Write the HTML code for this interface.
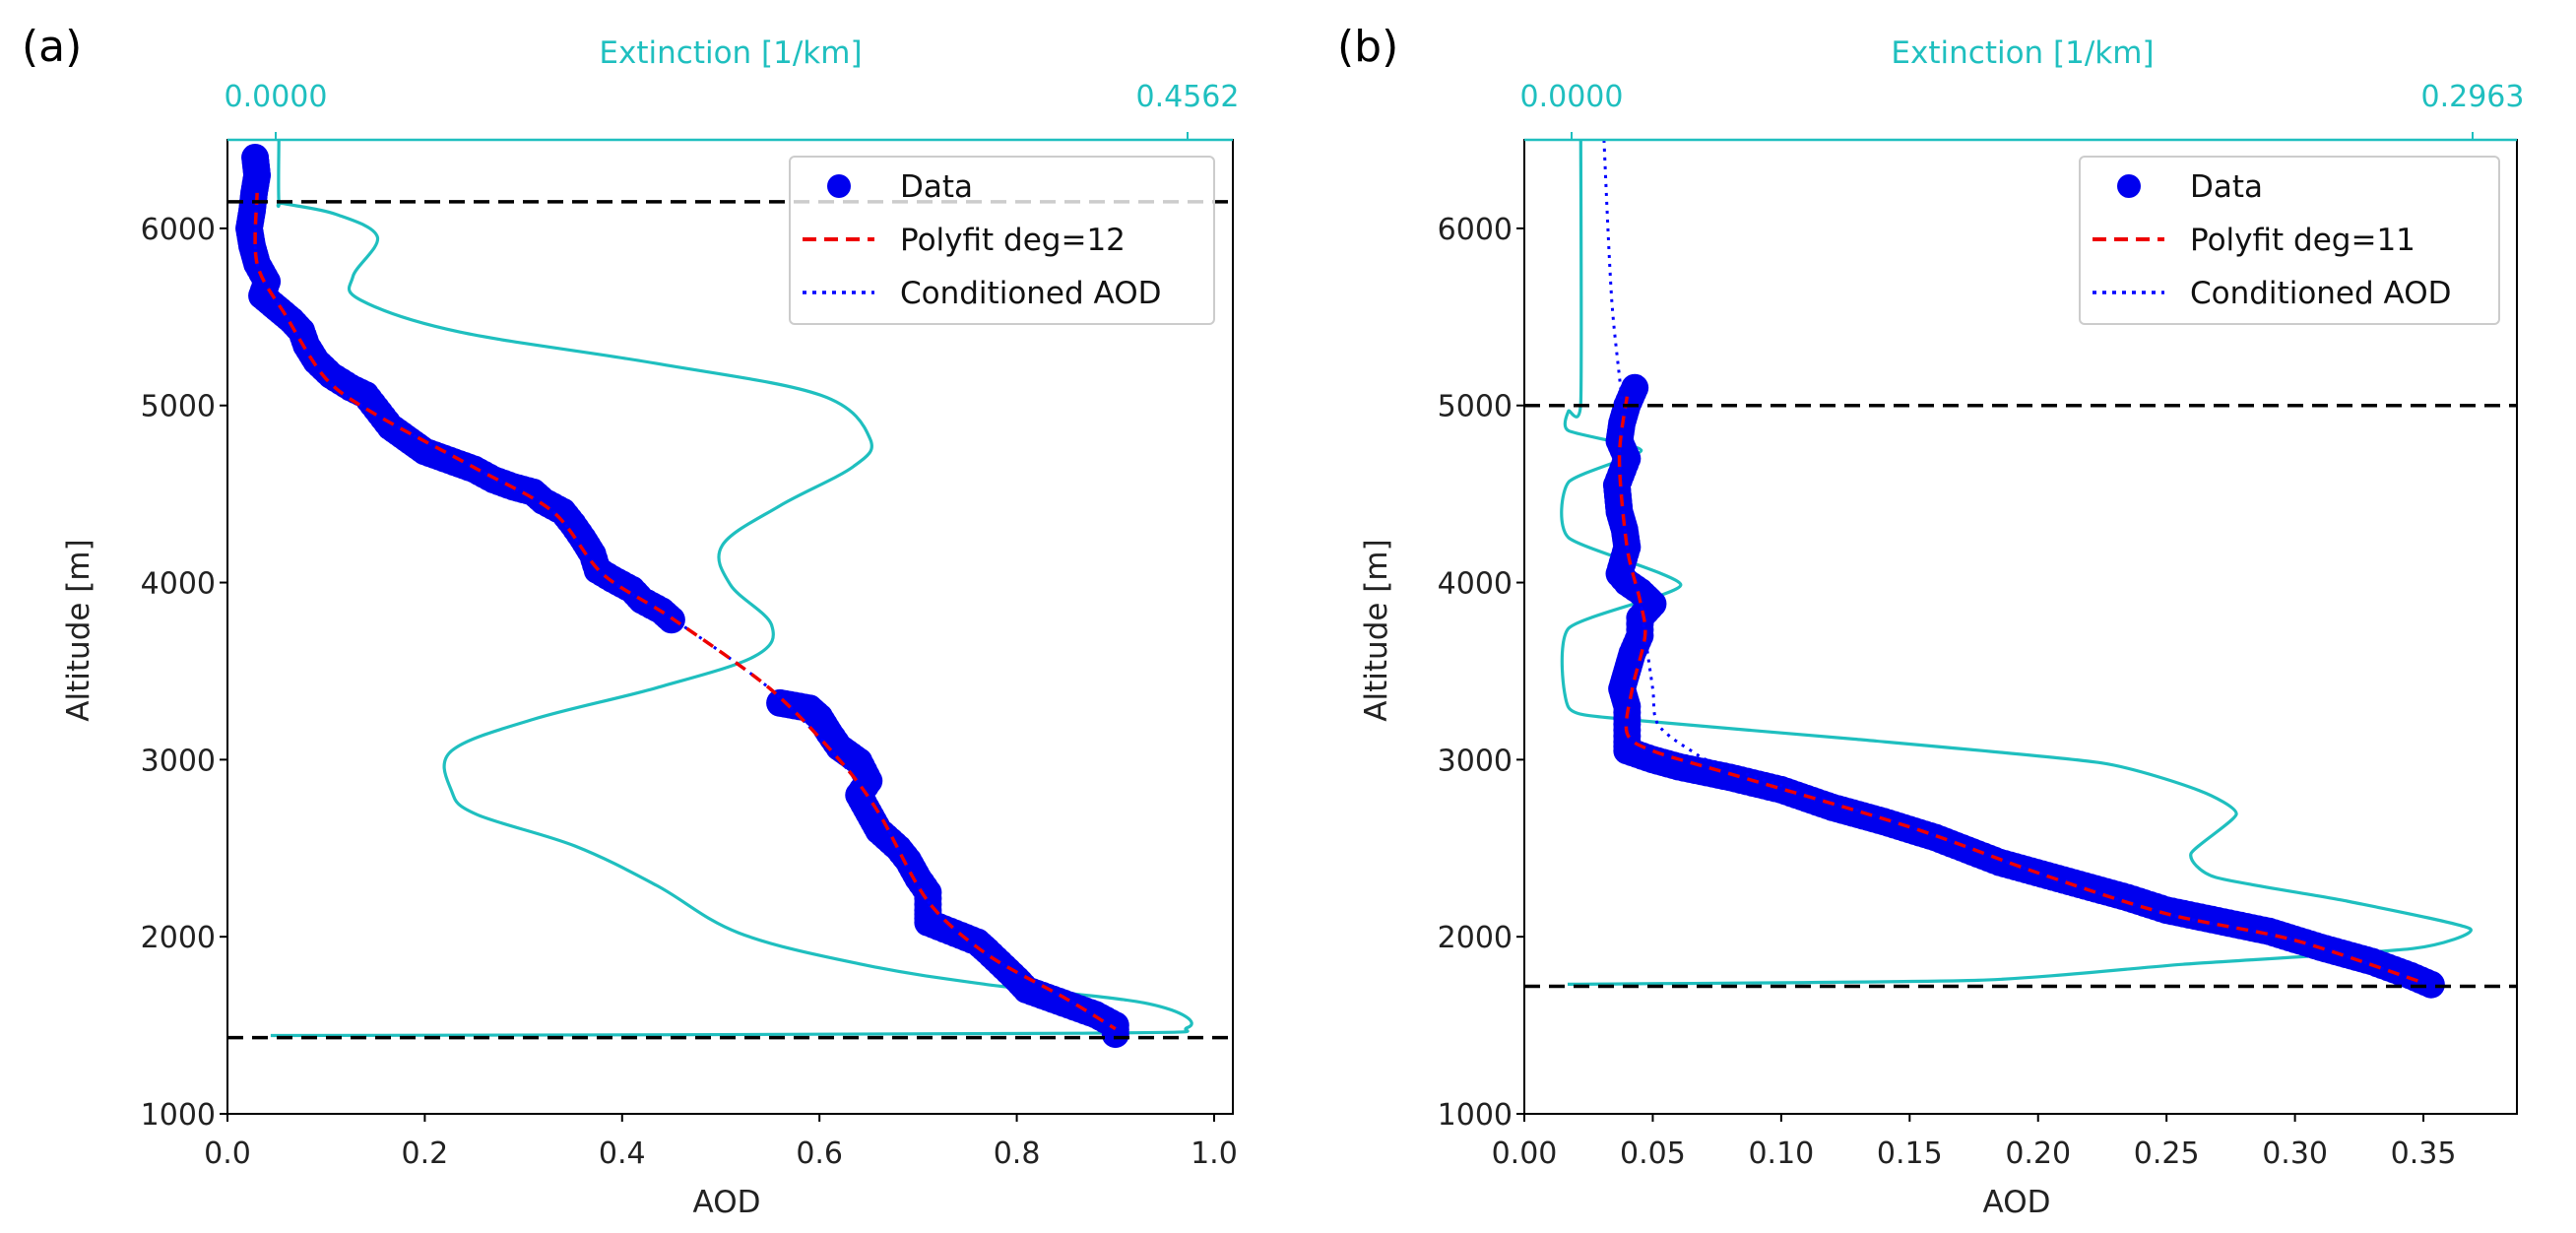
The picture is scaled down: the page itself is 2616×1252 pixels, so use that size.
<!DOCTYPE html>
<html><head><meta charset="utf-8"><style>
html,body{margin:0;padding:0;background:#fff;width:2616px;height:1252px;overflow:hidden}
svg text{font-family:"DejaVu Sans","Liberation Sans",sans-serif}
</style></head><body>
<svg id="svg" width="2616" height="1252" viewBox="0 0 2616 1252" xmlns="http://www.w3.org/2000/svg"></svg>
<script>
// ---------- Panel A data ----------
const aDataAod=[0.028,0.03,0.027,0.025,0.022,0.025,0.03,0.04,0.035,0.05,0.065,0.075,0.08,0.09,0.105,0.125,0.14,0.165,0.185,0.2,0.22,0.25,0.27,0.29,0.31,0.32,0.34,0.35,0.36,0.37,0.375,0.39,0.41,0.42,0.44,0.45,0.56,0.59,0.6,0.61,0.62,0.64,0.65,0.64,0.65,0.66,0.68,0.69,0.7,0.71,0.71,0.71,0.76,0.77,0.8,0.81,0.88,0.9,0.9];
const aDataAlt=[6400,6300,6200,6100,6000,5900,5800,5700,5620,5550,5480,5420,5340,5250,5170,5100,5060,4880,4800,4740,4700,4640,4580,4540,4510,4460,4400,4330,4250,4160,4070,4020,3960,3900,3840,3790,3320,3290,3240,3150,3070,2990,2880,2800,2700,2600,2500,2430,2330,2250,2150,2080,1970,1920,1760,1700,1560,1500,1450];
const aFitAod=[0.03,0.03,0.06,0.1,0.15,0.25,0.33,0.38,0.45,0.55,0.62,0.66,0.71,0.77,0.85,0.9];
const aFitAlt=[6200,5800,5500,5150,4950,4650,4400,4050,3800,3400,3000,2700,2200,1900,1650,1480];
const aExt=[0.0016,0.0016,0.004,0.03,0.0509,0.0386,0.0427,0.092,0.1905,0.2727,0.2973,0.2891,0.2521,0.2234,0.2275,0.248,0.2398,0.1905,0.1289,0.0879,0.0879,0.1002,0.1495,0.1905,0.2316,0.2932,0.3548,0.4369,0.4562,0.40,-0.0025];
const aExtAlt=[6500,6152,6140,6080,5951,5728,5594,5415,5237,5058,4813,4656,4433,4210,3987,3763,3585,3406,3228,3049,2826,2692,2513,2290,2022,1844,1732,1621,1487,1455,1442];
const aHlines=[6150,1430];
// ---------- Panel B data ----------
const bDataAod=[0.043,0.04,0.038,0.037,0.04,0.036,0.037,0.039,0.04,0.037,0.04,0.045,0.05,0.045,0.045,0.042,0.04,0.038,0.04,0.04,0.04,0.04,0.05,0.06,0.08,0.1,0.12,0.14,0.16,0.185,0.21,0.235,0.25,0.27,0.29,0.31,0.33,0.345,0.353];
const bDataAlt=[5100,5000,4900,4800,4700,4550,4400,4300,4200,4050,4000,3950,3880,3800,3700,3600,3500,3400,3300,3200,3100,3050,3000,2960,2900,2830,2730,2650,2560,2420,2320,2220,2150,2090,2030,1940,1860,1780,1730];
const bFitAod=[0.04,0.037,0.04,0.045,0.047,0.042,0.04,0.05,0.08,0.15,0.2,0.25,0.3,0.35];
const bFitAlt=[5050,4700,4200,3900,3700,3400,3150,3050,2920,2620,2360,2130,1980,1740];
const bCondAod=[0.031,0.034,0.038,0.037,0.04,0.045,0.047,0.05,0.052,0.065,0.08,0.15,0.2,0.25,0.3,0.35];
const bCondAlt=[6500,5600,5000,4700,4200,3900,3700,3400,3200,3050,2950,2620,2360,2130,1980,1740];
const bExt=[0.003,0.003,-0.001,-0.001,0.0229,-0.001,-0.001,0.0359,-0.001,-0.001,0.0175,0.0931,0.174,0.2064,0.2186,0.2037,0.2118,0.255,0.2955,0.2766,0.201,0.1336,-0.0013];
const bExtAlt=[6500,5013,4969,4857,4746,4567,4254,3987,3741,3295,3228,3116,2982,2826,2692,2469,2335,2201,2045,1933,1844,1754,1732];
const bHlines=[5000,1720];
const yTicks=[1000,2000,3000,4000,5000,6000];
const aXTicks=[0,0.2,0.4,0.6,0.8,1.0];
const aXLabels=["0.0","0.2","0.4","0.6","0.8","1.0"];
const bXTicks=[0,0.05,0.1,0.15,0.2,0.25,0.3,0.35];
const bXLabels=["0.00","0.05","0.10","0.15","0.20","0.25","0.30","0.35"];

const svg=document.getElementById('svg');
const NS='http://www.w3.org/2000/svg';
function mk(tag,attrs,parent,text){const e=document.createElementNS(NS,tag);for(const k in attrs)e.setAttribute(k,attrs[k]);if(text!==undefined)e.textContent=text;(parent||svg).appendChild(e);return e;}
function smooth(pts,t){
  let d='M'+pts[0][0].toFixed(1)+' '+pts[0][1].toFixed(1);
  for(let i=0;i<pts.length-1;i++){
    const p0=pts[Math.max(0,i-1)],p1=pts[i],p2=pts[i+1],p3=pts[Math.min(pts.length-1,i+2)];
    const c1=[p1[0]+(p2[0]-p0[0])*t,p1[1]+(p2[1]-p0[1])*t];
    const c2=[p2[0]-(p3[0]-p1[0])*t,p2[1]-(p3[1]-p1[1])*t];
    d+='C'+c1[0].toFixed(1)+' '+c1[1].toFixed(1)+' '+c2[0].toFixed(1)+' '+c2[1].toFixed(1)+' '+p2[0].toFixed(1)+' '+p2[1].toFixed(1);
  }
  return d;
}

function panel(p){
  const g=mk('g',{});
  
  
  const L=p.left,R=p.right,T=142,B=1131;
  const X=v=>L+(v-0)/(p.xmax)*(R-L);
  const Y=a=>B-(a-1000)/5500*(B-T);
  const XE=e=>p.e0+e/p.emax*(p.e1-p.e0);
  const cp=mk('clipPath',{id:'clip-'+p.id},g);
  mk('rect',{x:L,y:T,width:R-L,height:B-T},cp);
  const fr=mk('rect',{x:L,y:T,width:R-L,height:B-T,fill:'none',stroke:'#000','stroke-width':2},g);
  
  
  const ept=p.ext.map((e,i)=>[XE(e),Y(p.extAlt[i])]);
  const ec=mk('path',{d:smooth(ept,p.tens),fill:'none',stroke:'#1fbfbf','stroke-width':3.2,'stroke-linejoin':'round','clip-path':'url(#clip-'+p.id+')'},g);
  
  
  const dg=mk('g',{fill:'#0000ee'},g);
  
  
  p.dAod.forEach((v,i)=>{
    if(i>0){const pv=p.dAod[i-1],pa=p.dAlt[i-1];const dx=X(v)-X(pv),dy=Y(p.dAlt[i])-Y(pa);const n=Math.ceil(Math.hypot(dx,dy)/6);
      if(Math.hypot(dx,dy)<90){for(let k=1;k<n;k++){const c=mk('circle',{cx:X(pv)+dx*k/n,cy:Y(pa)+dy*k/n,r:14},dg);}}}
    const c=mk('circle',{cx:X(v),cy:Y(p.dAlt[i]),r:14},dg);
    
    
  });
  const cl=mk('path',{d:smooth(p.cAod.map((v,i)=>[X(v),Y(p.cAlt[i])]),0.15),fill:'none',stroke:'#0000ff','stroke-width':3,'stroke-dasharray':'3 6'},g);
  
  
  const fl=mk('path',{d:smooth(p.fAod.map((v,i)=>[X(v),Y(p.fAlt[i])]),0.15),fill:'none',stroke:'#ee0000','stroke-width':3.5,'stroke-dasharray':'12 8'},g);
  
  
  p.hl.forEach(a=>{const h=mk('line',{x1:L,x2:R,y1:Y(a),y2:Y(a),stroke:'#000','stroke-width':3.5,'stroke-dasharray':'16 9'},g);
    
    });
  const ts=mk('line',{x1:L,x2:R,y1:T,y2:T,stroke:'#1fbfbf','stroke-width':2.5},g);
  
  
  [[0,p.e0lab],[p.emax,p.emaxlab]].forEach(([e,lab])=>{
    mk('line',{x1:XE(e),x2:XE(e),y1:T,y2:T-8,stroke:'#1fbfbf','stroke-width':2},g);
    const t=mk('text',{x:XE(e),y:108,'text-anchor':'middle','font-size':30,fill:'#1fbfbf'},g,lab);
    
    
  });
  const et=mk('text',{x:p.etx,y:64,'text-anchor':'middle','font-size':31,fill:'#1fbfbf'},g,'Extinction [1/km]');
  
  
  yTicks.forEach(a=>{mk('line',{x1:L,x2:L-8,y1:Y(a),y2:Y(a),stroke:'#000','stroke-width':2},g);
    const t=mk('text',{x:L-12,y:Y(a)+11,'text-anchor':'end','font-size':30,fill:'#222'},g,String(a));
    
    });
  p.xt.forEach((v,i)=>{mk('line',{x1:X(v),x2:X(v),y1:B,y2:B+8,stroke:'#000','stroke-width':2},g);
    const t=mk('text',{x:X(v),y:1181,'text-anchor':'middle','font-size':30,fill:'#222'},g,p.xl[i]);
    
    });
  const xt=mk('text',{x:p.xtx,y:1231,'text-anchor':'middle','font-size':31,fill:'#222'},g,'AOD');
  
  
  const yt=mk('text',{x:0,y:0,'text-anchor':'middle','font-size':31,fill:'#222',transform:`translate(${p.ytx},640) rotate(-90)`},g,'Altitude [m]');
  
  
  const pl=mk('text',{x:p.plx,y:62,'font-size':44,fill:'#000','font-family':'Liberation Sans, sans-serif'},g,p.lab);
  
  
  const lg=mk('g',{},g);
  
  
  mk('rect',{x:p.lgx,y:159,width:p.lgw,height:170,rx:5,fill:'rgba(255,255,255,0.8)',stroke:'#ccc','stroke-width':2},lg);
  const mx=p.lgx+50;
  mk('circle',{cx:mx,cy:189,r:12,fill:'#0000ee'},lg);
  mk('line',{x1:p.lgx+13,x2:p.lgx+86,y1:243,y2:243,stroke:'#ee0000','stroke-width':4,'stroke-dasharray':'14 8'},lg);
  mk('line',{x1:p.lgx+13,x2:p.lgx+86,y1:297,y2:297,stroke:'#0000ff','stroke-width':3.5,'stroke-dasharray':'4 6'},lg);
  [['Data',200],[p.fitlab,254],['Conditioned AOD',308]].forEach(([s,y])=>{
    const t=mk('text',{x:p.lgx+112,y:y,'font-size':31,fill:'#111'},lg,s);
    
    });
}
panel({id:'a',left:231,right:1252,xmax:1.019,e0:280,e1:1206,emax:0.4562,e0lab:'0.0000',emaxlab:'0.4562',etx:742,tens:0.17,
  ext:aExt,extAlt:aExtAlt,dAod:aDataAod,dAlt:aDataAlt,fAod:aFitAod,fAlt:aFitAlt,cAod:aFitAod,cAlt:aFitAlt,hl:aHlines,
  xt:aXTicks,xl:aXLabels,xtx:738,ytx:90,plx:22,lab:'(a)',lgx:802,lgw:431,fitlab:'Polyfit deg=12'});
panel({id:'b',left:1548,right:2556,xmax:0.3864,e0:1596,e1:2511,emax:0.2963,e0lab:'0.0000',emaxlab:'0.2963',etx:2054,tens:0.1,
  ext:bExt,extAlt:bExtAlt,dAod:bDataAod,dAlt:bDataAlt,fAod:bFitAod,fAlt:bFitAlt,cAod:bCondAod,cAlt:bCondAlt,hl:bHlines,
  xt:bXTicks,xl:bXLabels,xtx:2048,ytx:1408,plx:1358,lab:'(b)',lgx:2112,lgw:426,fitlab:'Polyfit deg=11'});
</script>
</body></html>
